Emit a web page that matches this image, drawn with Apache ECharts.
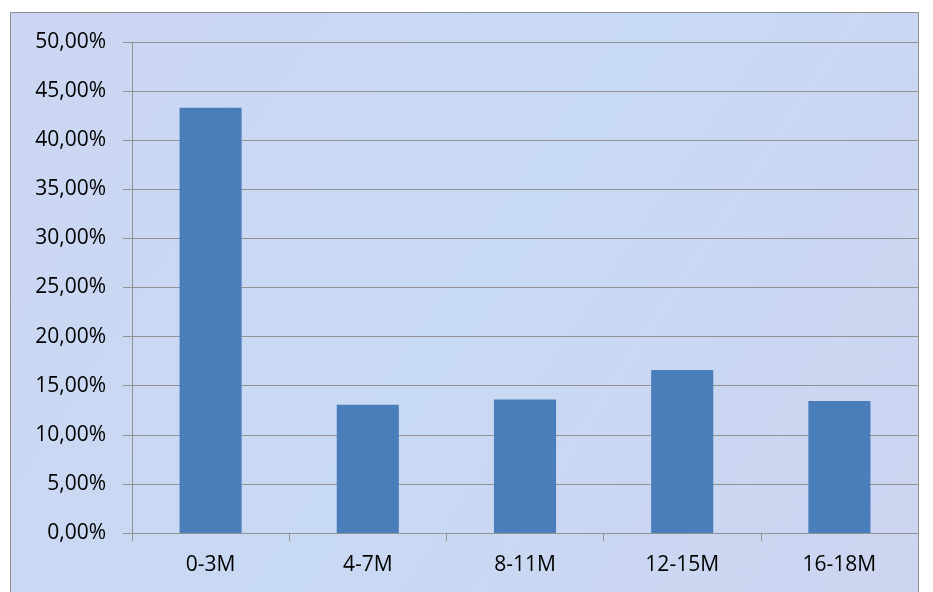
<!DOCTYPE html>
<html>
<head>
<meta charset="utf-8">
<script src="https://cdn.jsdelivr.net/npm/echarts@6/dist/echarts.min.js"></script>
<style>
  html, body { margin: 0; padding: 0; background: #fff; }
  #main { width: 933px; height: 592px; }
</style>
</head>
<body>
<div id="main"></div>
<script>
var categories = ['0-3M', '4-7M', '8-11M', '12-15M', '16-18M'];
var shares = [43.3, 13.05, 13.6, 16.6, 13.45];
var yTicks = { min: 0, max: 50, interval: 5 };

var myChart = echarts.init(document.getElementById('main'));
var option = {
  animation: false,
  backgroundColor: '#ffffff',
  graphic: [{
    type: 'rect',
    z: -10,
    shape: { x: 10.5, y: 12.5, width: 908, height: 600 },
    style: {
      fill: {
        type: 'linear', x: 0, y: 0, x2: 1, y2: 1,
        colorStops: [
          { offset: 0, color: '#ccd6f2' },
          { offset: 0.5, color: '#c8d9f3' },
          { offset: 1, color: '#cdd4f0' }
        ]
      },
      stroke: '#8e8e8e',
      lineWidth: 1
    }
  }],
  grid: { left: 132, right: 15, top: 42, bottom: 59 },
  xAxis: {
    type: 'category',
    data: categories,
    axisLine: { lineStyle: { color: '#929292', width: 1 } },
    axisTick: { show: true, length: 8, lineStyle: { color: '#929292' } },
    axisLabel: {
      color: '#000', fontFamily: 'Open Sans', fontSize: 21, margin: 22
    }
  },
  yAxis: {
    type: 'value',
    min: yTicks.min, max: yTicks.max, interval: yTicks.interval,
    axisLine: { show: true, lineStyle: { color: '#929292', width: 1 } },
    axisTick: { show: true, length: 9, lineStyle: { color: '#929292' } },
    splitLine: { lineStyle: { color: '#929292', width: 1 } },
    axisLabel: {
      color: '#000', fontFamily: 'Open Sans', fontSize: 21, margin: 26,
      formatter: function (v) { return v.toFixed(2).replace('.', ',') + '%'; }
    }
  },
  series: [{
    type: 'bar',
    data: shares,
    barWidth: '39.5%',
    itemStyle: { color: '#4a7ebb' }
  }]
};
myChart.setOption(option);
</script>
</body>
</html>
